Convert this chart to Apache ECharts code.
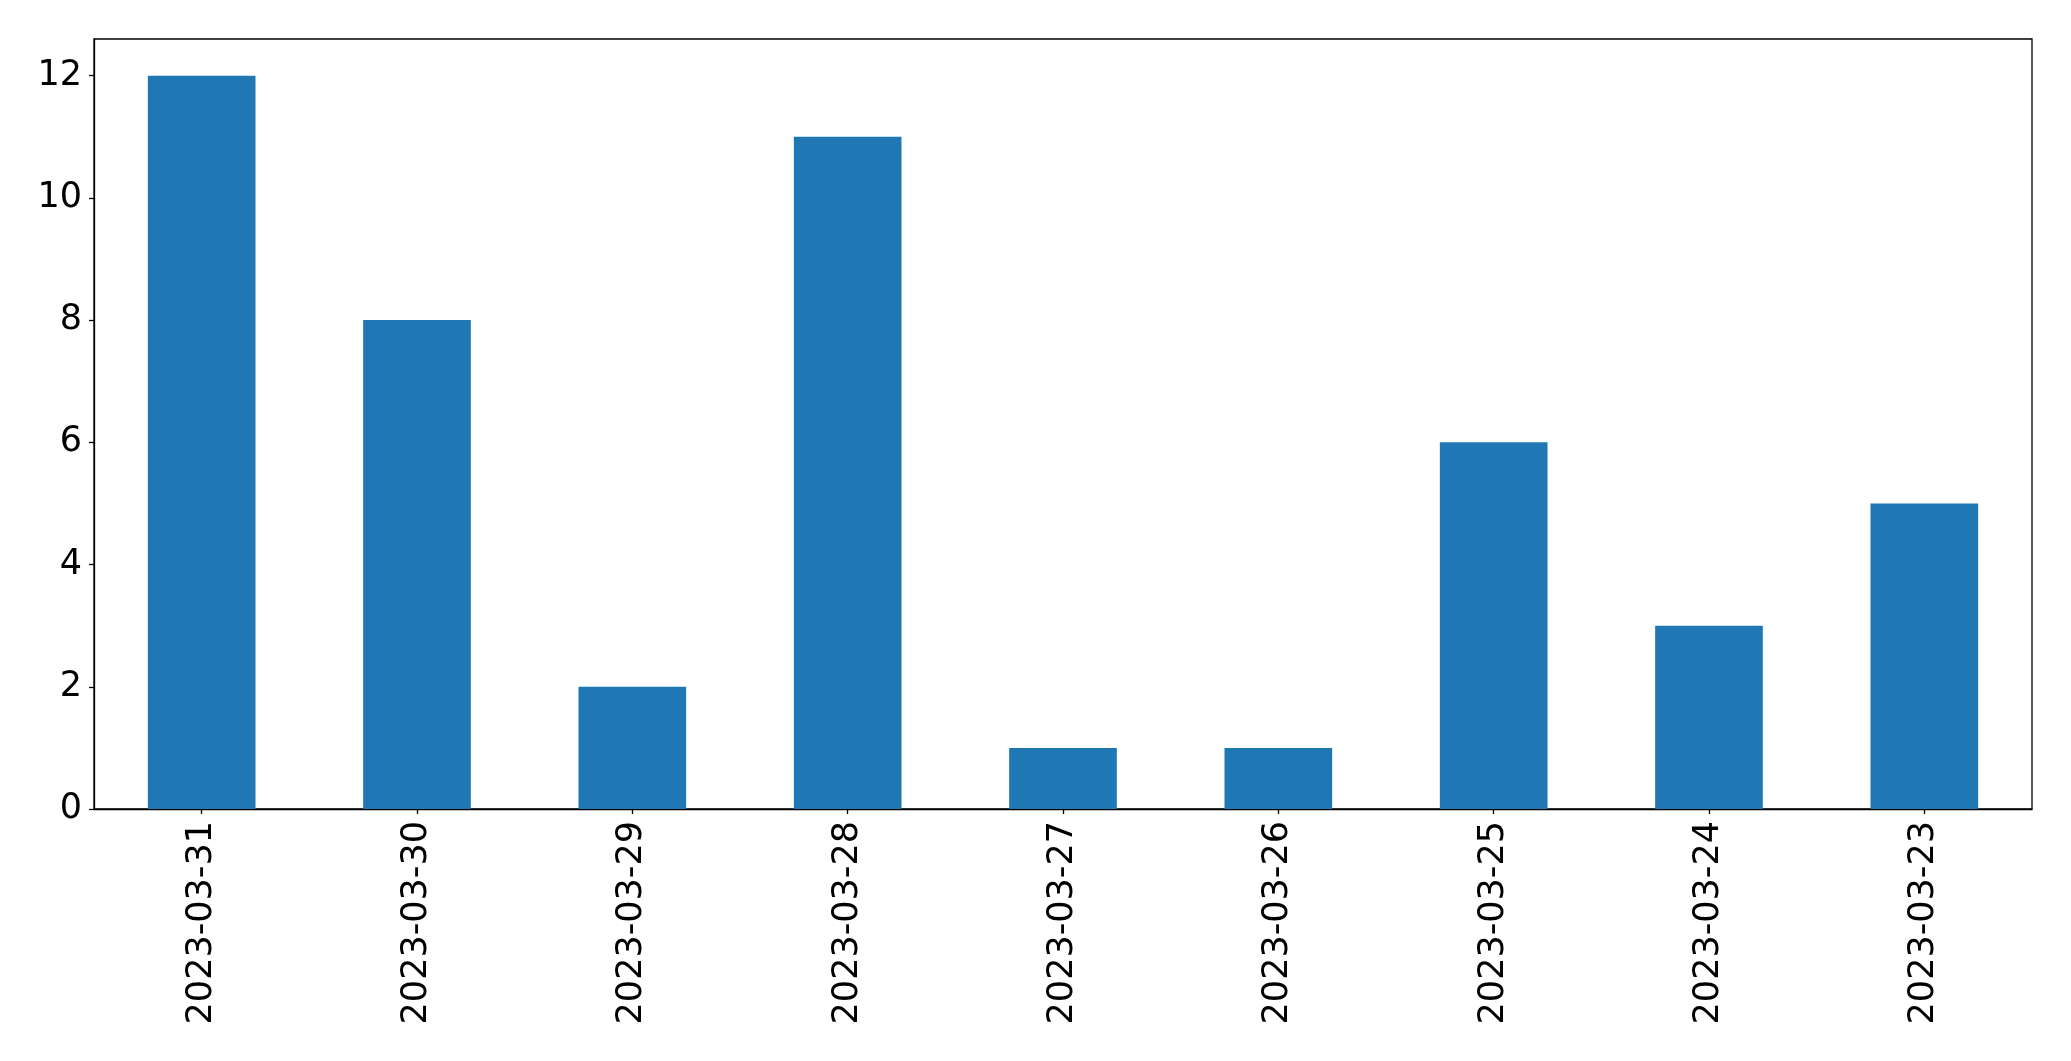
<!DOCTYPE html>
<html>
<head>
<meta charset="utf-8">
<script src="https://cdn.jsdelivr.net/npm/echarts@6/dist/echarts.min.js"></script>
<style>
html,body{margin:0;padding:0;background:#fff;}
#chart{width:2071px;height:1061px;}
</style>
</head>
<body>
<div id="chart"></div>
<script>
const categories = ['2023-03-31','2023-03-30','2023-03-29','2023-03-28','2023-03-27','2023-03-26','2023-03-25','2023-03-24','2023-03-23'];
const values = [12, 8, 2, 11, 1, 1, 6, 3, 5];
const yTicks = [0, 2, 4, 6, 8, 10, 12];
const yMax = 12.6;

const chart = echarts.init(document.getElementById('chart'), null, {renderer: 'canvas'});
const font = 'DejaVu Sans';
chart.setOption({
  animation: false,
  backgroundColor: '#ffffff',
  grid: {
    left: 94, right: 39, top: 39, bottom: 252,
    show: true, borderColor: '#000000', borderWidth: 1.3, backgroundColor: 'transparent'
  },
  xAxis: {
    type: 'category',
    data: categories,
    boundaryGap: true,
    axisLine: {show: true, lineStyle: {color: '#000', width: 1.3}},
    axisTick: {show: true, alignWithLabel: true, length: 5, lineStyle: {color: '#000', width: 1.3}},
    axisLabel: {rotate: 90, fontFamily: font, fontSize: 35, color: '#000', margin: 12, interval: 0},
    splitLine: {show: false}
  },
  yAxis: {
    type: 'value',
    min: 0, max: yMax,
    axisLine: {show: true, lineStyle: {color: '#000', width: 1.3}},
    axisTick: {show: true, length: 5, lineStyle: {color: '#000', width: 1.3}, customValues: yTicks},
    axisLabel: {fontFamily: font, fontSize: 35, color: '#000', margin: 12, customValues: yTicks},
    splitLine: {show: false}
  },
  series: [{
    type: 'bar',
    data: values,
    barWidth: '50%',
    itemStyle: {color: '#1f77b4'}
  }]
});
</script>
</body>
</html>
